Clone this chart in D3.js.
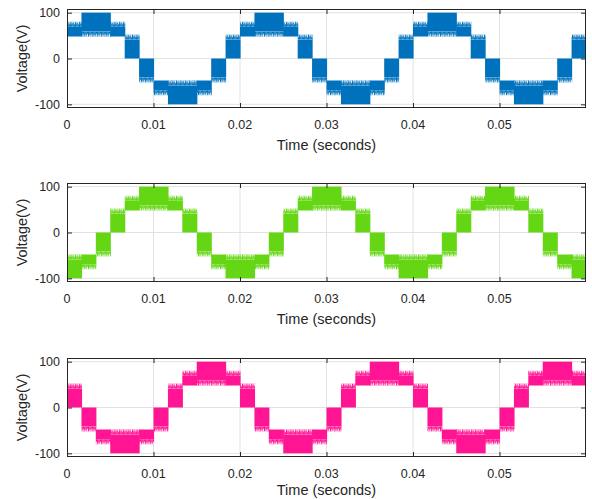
<!DOCTYPE html>
<html><head><meta charset="utf-8">
<script src="https://cdn.jsdelivr.net/npm/d3@7"></script>
<style>
body{margin:0;background:#fff}
svg{display:block}
text{font-family:"Liberation Sans",Arial,Helvetica,sans-serif;fill:#262626}
</style>
</head><body>
<svg id="c" width="592" height="499"></svg>
<script>
const xTicks = [0, 0.01, 0.02, 0.03, 0.04, 0.05];
const xTickLabels = ["0", "0.01", "0.02", "0.03", "0.04", "0.05"];
const yTicks = [-100, 0, 100];
const yTickLabels = ["-100", "0", "100"];
const xLabel = "Time (seconds)";
const yLabel = "Voltage(V)";
const seriesNames = ["Phase A", "Phase B", "Phase C"];

// Each entry: [time start (s), time end (s), lower voltage, upper voltage] of a switching band
const phaseA = [
 [0,0.00167,48,80],[0.00167,0.005,48,100],[0.005,0.00667,48,80],[0.00667,0.00833,0,52],
 [0.00833,0.01,-52,0],[0.01,0.01167,-80,-48],[0.01167,0.015,-100,-48],[0.015,0.01667,-80,-48],
 [0.01667,0.01833,-52,0],[0.01833,0.02,0,52],
 [0.02,0.02167,48,80],[0.02167,0.025,48,100],[0.025,0.02667,48,80],[0.02667,0.02833,0,52],
 [0.02833,0.03,-52,0],[0.03,0.03167,-80,-48],[0.03167,0.035,-100,-48],[0.035,0.03667,-80,-48],
 [0.03667,0.03833,-52,0],[0.03833,0.04,0,52],
 [0.04,0.04167,48,80],[0.04167,0.045,48,100],[0.045,0.04667,48,80],[0.04667,0.04833,0,52],
 [0.04833,0.05,-52,0],[0.05,0.05167,-80,-48],[0.05167,0.055,-100,-48],[0.055,0.05667,-80,-48],
 [0.05667,0.05833,-52,0],[0.05833,0.06,0,52]
];
const phaseB = [
 [0,0.00167,-100,-48],[0.00167,0.00333,-80,-48],[0.00333,0.005,-52,0],[0.005,0.00667,0,52],
 [0.00667,0.00833,48,80],[0.00833,0.01167,48,100],[0.01167,0.01333,48,80],[0.01333,0.015,0,52],
 [0.015,0.01667,-52,0],[0.01667,0.01833,-80,-48],[0.01833,0.02167,-100,-48],[0.02167,0.02333,-80,-48],
 [0.02333,0.025,-52,0],[0.025,0.02667,0,52],[0.02667,0.02833,48,80],[0.02833,0.03167,48,100],
 [0.03167,0.03333,48,80],[0.03333,0.035,0,52],[0.035,0.03667,-52,0],[0.03667,0.03833,-80,-48],
 [0.03833,0.04167,-100,-48],[0.04167,0.04333,-80,-48],[0.04333,0.045,-52,0],[0.045,0.04667,0,52],
 [0.04667,0.04833,48,80],[0.04833,0.05167,48,100],[0.05167,0.05333,48,80],[0.05333,0.055,0,52],
 [0.055,0.05667,-52,0],[0.05667,0.05833,-80,-48],[0.05833,0.06,-100,-48]
];
const phaseC = [
 [0,0.00167,0,52],[0.00167,0.00333,-52,0],[0.00333,0.005,-80,-48],[0.005,0.00833,-100,-48],
 [0.00833,0.01,-80,-48],[0.01,0.01167,-52,0],[0.01167,0.01333,0,52],[0.01333,0.015,48,80],
 [0.015,0.01833,48,100],[0.01833,0.02,48,80],[0.02,0.02167,0,52],[0.02167,0.02333,-52,0],
 [0.02333,0.025,-80,-48],[0.025,0.02833,-100,-48],[0.02833,0.03,-80,-48],[0.03,0.03167,-52,0],
 [0.03167,0.03333,0,52],[0.03333,0.035,48,80],[0.035,0.03833,48,100],[0.03833,0.04,48,80],
 [0.04,0.04167,0,52],[0.04167,0.04333,-52,0],[0.04333,0.045,-80,-48],[0.045,0.04833,-100,-48],
 [0.04833,0.05,-80,-48],[0.05,0.05167,-52,0],[0.05167,0.05333,0,52],[0.05333,0.055,48,80],
 [0.055,0.05833,48,100],[0.05833,0.06,48,80]
];

const seriesData = [phaseA, phaseB, phaseC];
const colors = ["#0072BD", "#64D613", "#FF1493"];

const svg = d3.select("#c");
const left = 67, right = 586, panelTops = [9, 183, 358], ph = 99;
const TEETH = 5;
const x = d3.scaleLinear().domain([0, 0.06]).range([left, right]);
const defs = svg.append("defs");

// serrated-edge texture (style only)
const toothHeights = [1, 0.65, 0.9, 0.5];
colors.forEach((c, i) => {
  ["up", "down"].forEach(dir => {
    const p = defs.append("pattern").attr("id", `t${i}${dir}`)
      .attr("patternUnits", "userSpaceOnUse").attr("width", 4 * 1.1).attr("height", TEETH);
    toothHeights.forEach((f, k) => {
      const h = TEETH * f;
      p.append("rect").attr("x", k * 1.1).attr("y", dir === "up" ? TEETH - h : 0)
        .attr("width", 1.15).attr("height", h).attr("fill", c);
    });
  });
});

seriesData.forEach((segs, i) => {
  const top = panelTops[i];
  const y = d3.scaleLinear().domain([-108, 108]).range([top + ph, top]);
  const g = svg.append("g");

  defs.append("clipPath").attr("id", "clip" + i).append("rect")
    .attr("x", left).attr("y", top).attr("width", right - left).attr("height", ph);

  // grid
  g.append("g").selectAll("line").data(xTicks.slice(1)).join("line")
    .attr("x1", d => x(d)).attr("x2", d => x(d)).attr("y1", top).attr("y2", top + ph)
    .attr("stroke", "#e2e2e2").attr("stroke-width", 1);
  g.append("g").selectAll("line").data(yTicks).join("line")
    .attr("x1", left).attr("x2", right).attr("y1", d => y(d)).attr("y2", d => y(d))
    .attr("stroke", "#e2e2e2").attr("stroke-width", 1);

  // waveform bands
  const wg = g.append("g").attr("clip-path", `url(#clip${i})`);
  segs.forEach(([t0, t1, lo, hi]) => {
    const x0 = x(t0), w = x(t1) - x0 + 0.6;
    const yHi = y(hi), yLo = y(lo);
    const peak = Math.abs(lo) === 100 || Math.abs(hi) === 100;
    const serrTop = peak ? Math.abs(hi) < Math.abs(lo) : Math.abs(hi) > Math.abs(lo);
    if (serrTop) {
      wg.append("rect").attr("x", x0).attr("y", yHi + TEETH).attr("width", w)
        .attr("height", Math.max(0, yLo - yHi - TEETH)).attr("fill", colors[i]);
      wg.append("g").attr("transform", `translate(0,${yHi})`).append("rect")
        .attr("x", x0).attr("y", 0).attr("width", w).attr("height", TEETH)
        .attr("fill", `url(#t${i}up)`);
    } else {
      wg.append("rect").attr("x", x0).attr("y", yHi).attr("width", w)
        .attr("height", Math.max(0, yLo - yHi - TEETH)).attr("fill", colors[i]);
      wg.append("g").attr("transform", `translate(0,${yLo - TEETH})`).append("rect")
        .attr("x", x0).attr("y", 0).attr("width", w).attr("height", TEETH)
        .attr("fill", `url(#t${i}down)`);
    }
  });

  // frame
  g.append("rect").attr("x", left + 0.5).attr("y", top + 0.5).attr("width", right - left - 1)
    .attr("height", ph - 1).attr("fill", "none").attr("stroke", "#262626").attr("stroke-width", 1);
  // tick marks
  const tk = 5;
  g.append("g").selectAll("path").data(xTicks).join("path")
    .attr("d", d => `M${x(d)+0.5},${top+ph}v${-tk}M${x(d)+0.5},${top}v${tk}`)
    .attr("stroke", "#262626");
  g.append("g").selectAll("path").data(yTicks).join("path")
    .attr("d", d => `M${left},${y(d)+0.5}h${tk}M${right},${y(d)+0.5}h${-tk}`)
    .attr("stroke", "#262626");

  // tick labels
  g.append("g").selectAll("text").data(xTicks).join("text")
    .attr("x", d => x(d)).attr("y", top + ph + 21)
    .attr("text-anchor", "middle").attr("font-size", 12.5)
    .text((d, k) => xTickLabels[k]);
  g.append("g").selectAll("text").data(yTicks).join("text")
    .attr("x", left - 7).attr("y", d => y(d) + 4.5)
    .attr("text-anchor", "end").attr("font-size", 12.5)
    .text((d, k) => yTickLabels[k]);

  // axis labels
  g.append("text").attr("x", (left + right) / 2).attr("y", Math.min(top + ph + 42, 495))
    .attr("text-anchor", "middle").attr("font-size", 14.5).text(xLabel);
  g.append("text").attr("transform", `translate(27,${top + ph / 2}) rotate(-90)`)
    .attr("text-anchor", "middle").attr("font-size", 14.5).text(yLabel);
});
</script>
</body></html>
